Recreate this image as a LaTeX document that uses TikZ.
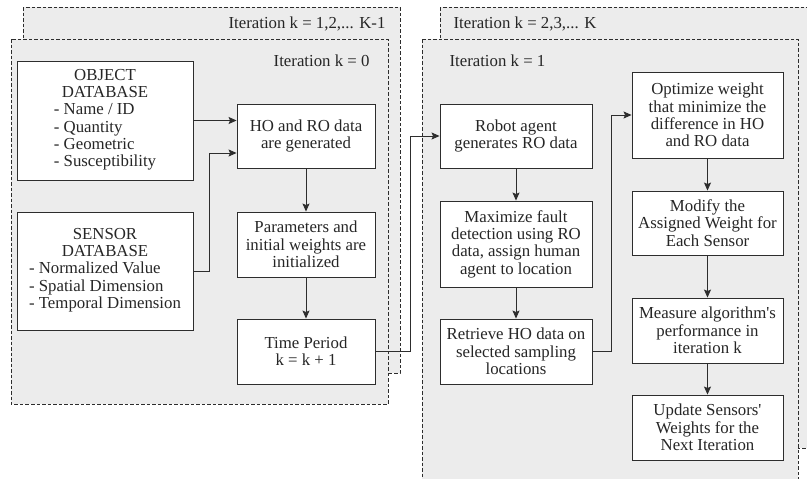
\documentclass[tikz,border=0pt]{standalone}
\usepackage{fontspec}
\setmainfont{Liberation Serif}
\usetikzlibrary{arrows.meta}

\definecolor{panelgray}{RGB}{236,236,236}
\definecolor{linegray}{RGB}{45,45,45}

\begin{document}
\begin{tikzpicture}[x=1pt, y=-1pt,
    >={Stealth[length=8pt, width=7pt, inset=1.5pt]},
    every node/.style={font=\fontsize{16.8}{17.3}\selectfont, text=black!85},
    panel/.style={draw=linegray, fill=panelgray, line width=0.9pt, dash pattern=on 3.5pt off 2pt},
    procbox/.style={draw=linegray, fill=white, line width=0.9pt, align=center, inner sep=1pt},
    flow/.style={->, draw=linegray, line width=0.8pt}]

    \useasboundingbox (0,0) rectangle (807,479);
    \clip (0,0) rectangle (807,479);

    % Iteration panels (back ones first)
    \draw[panel] (23,7) rectangle (400,373);
    \draw[panel] (11,39) rectangle (388,404);
    \draw[panel] (440,7) rectangle (830,448);
    \draw[panel] (422,39) rectangle (798,520);

    \node[anchor=east] (itback) at (389,24) {Iteration k = 1,2,... K-1};
    \node[anchor=east] (itzero) at (373,60.5) {Iteration k = 0};
    \node[anchor=west] (itlast) at (450,24) {Iteration k = 2,3,... K};
    \node[anchor=west] (itone) at (446,60.5) {Iteration k = 1};

    % Databases
    \node[procbox, minimum width=176pt, minimum height=119pt] (objdb) at (105,120.5)
        {OBJECT\\DATABASE\\\begin{tabular}[t]{@{}l@{}}- Name / ID\\- Quantity\\- Geometric\\- Susceptibility\end{tabular}};
    \node[procbox, minimum width=176pt, minimum height=118pt] (sensdb) at (105,271)
        {SENSOR\\DATABASE\\\begin{tabular}[t]{@{}l@{}}- Normalized Value\\- Spatial Dimension\\- Temporal Dimension\end{tabular}};

    % Initial iteration
    \node[procbox, minimum width=138pt, minimum height=64pt] (gen) at (306,136)
        {HO and RO data\\are generated};
    \node[procbox, minimum width=138pt, minimum height=65pt] (init) at (306,244.5)
        {Parameters and\\initial weights are\\initialized};
    \node[procbox, minimum width=138pt, minimum height=65pt] (period) at (306,351.5)
        {Time Period\\k = k + 1};

    % Following iterations
    \node[procbox, minimum width=152pt, minimum height=64pt] (robot) at (516,136)
        {Robot agent\\generates RO data};
    \node[procbox, minimum width=152pt, minimum height=86pt] (maxim) at (516,244)
        {Maximize fault\\detection using RO\\data, assign human\\agent to location};
    \node[procbox, minimum width=152pt, minimum height=65pt] (retrieve) at (516,351.5)
        {Retrieve HO data on\\selected sampling\\locations};

    \node[procbox, minimum width=151pt, minimum height=86pt] (optim) at (707.5,115)
        {Optimize weight\\that minimize the\\difference in HO\\and RO data};
    \node[procbox, minimum width=151pt, minimum height=64pt] (modify) at (707.5,223)
        {Modify the\\Assigned Weight for\\Each Sensor};
    \node[procbox, minimum width=151pt, minimum height=65pt] (measure) at (707.5,330.5)
        {Measure algorithm\textquotesingle s\\performance in\\iteration k};
    \node[procbox, minimum width=151pt, minimum height=65pt] (update) at (707.5,427.5)
        {Update Sensors\textquotesingle\\Weights for the\\Next Iteration};

    % Connectors
    \draw[flow] (objdb.east) -- (objdb.east -| gen.west);
    \draw[flow] (sensdb.east) -- ++(16,0) |- ([yshift=-17pt]gen.west);
    \draw[flow] (gen) -- (init);
    \draw[flow] (init) -- (period);
    \draw[flow] (period.east) -- ++(35,0) |- (robot.west);
    \draw[flow] (robot) -- (maxim);
    \draw[flow] (maxim) -- (retrieve);
    \draw[flow] (retrieve.east) -- ++(19,0) |- (optim.west);
    \draw[flow] (optim) -- (modify);
    \draw[flow] (modify) -- (measure);
    \draw[flow] (measure) -- (update);

\end{tikzpicture}
\end{document}
